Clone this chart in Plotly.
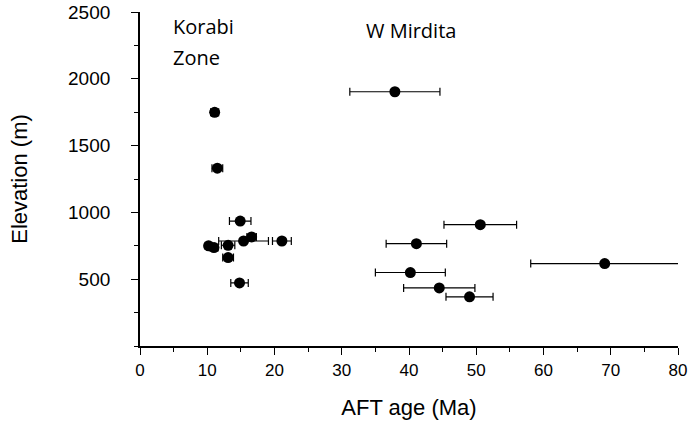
import plotly.graph_objects as go

# Korabi Zone samples
korabi_age = [11.1, 11.5, 14.9, 16.6, 15.4, 21.1, 10.2, 11.0, 13.1, 13.1, 14.8]
korabi_err = [0.6, 0.8, 1.6, 0.7, 3.7, 1.4, 0.5, 0.6, 1.0, 0.8, 1.3]
korabi_elev = [1749, 1331, 935, 816, 786, 786, 750, 737, 754, 662, 472]

# W Mirdita samples
mirdita_age = [37.9, 50.6, 41.1, 69.1, 40.2, 44.5, 49.0]
mirdita_err = [6.7, 5.4, 4.5, 11.0, 5.2, 5.3, 3.5]
mirdita_elev = [1903, 908, 766, 617, 550, 435, 368]

x_tickvals = [0, 10, 20, 30, 40, 50, 60, 70, 80]
y_tickvals = [500, 1000, 1500, 2000, 2500]

fig = go.Figure()
for ages, errs, elevs in [(korabi_age, korabi_err, korabi_elev),
                          (mirdita_age, mirdita_err, mirdita_elev)]:
    fig.add_trace(go.Scatter(
        x=ages, y=elevs, mode="markers",
        marker=dict(color="black", size=11),
        error_x=dict(type="data", array=errs, visible=True,
                     color="black", thickness=1.2, width=4),
        showlegend=False, cliponaxis=False,
    ))

font_axis = "Arial"
fig.update_layout(
    width=690, height=428,
    margin=dict(l=140, r=12, t=12, b=82),
    paper_bgcolor="white", plot_bgcolor="white",
    font=dict(family=font_axis, size=17, color="black"),
    xaxis=dict(
        range=[0, 80], tickvals=x_tickvals, ticks="outside", ticklen=7,
        tickwidth=1.3, tickcolor="black", showline=True, linecolor="black",
        linewidth=1.8, showgrid=False, zeroline=False, automargin=False,
        minor=dict(dtick=5, ticks="outside", ticklen=4, tickcolor="black", tickwidth=1),
        title=dict(text="AFT age (Ma)", font=dict(size=22), standoff=20),
        tickfont=dict(size=17), ticklabelstandoff=1,
    ),
    yaxis=dict(
        range=[0, 2500], tickvals=y_tickvals, ticks="outside", ticklen=7,
        tickwidth=1.3, tickcolor="black", showline=True, linecolor="black",
        linewidth=1.8, showgrid=False, zeroline=False, automargin=False,
        minor=dict(dtick=250, ticks="outside", ticklen=4, tickcolor="black", tickwidth=1),
        title=dict(text="Elevation (m)", font=dict(size=22), standoff=34),
        tickfont=dict(size=19), ticklabelstandoff=17,
    ),
)
fig.add_annotation(text="Korabi", x=4.6, y=0.957, xref="x", yref="paper",
                   showarrow=False, xanchor="left", yanchor="middle",
                   font=dict(family="Open Sans", size=20))
fig.add_annotation(text="Zone", x=4.6, y=0.865, xref="x", yref="paper",
                   showarrow=False, xanchor="left", yanchor="middle",
                   font=dict(family="Open Sans", size=20))
fig.add_annotation(text="W Mirdita", x=33.3, y=2360, xref="x", yref="y",
                   showarrow=False, xanchor="left", yanchor="middle",
                   font=dict(family="Open Sans", size=20))

fig.write_html("out.html", config={"displayModeBar": False},
               post_script="document.body.style.margin='0';")
